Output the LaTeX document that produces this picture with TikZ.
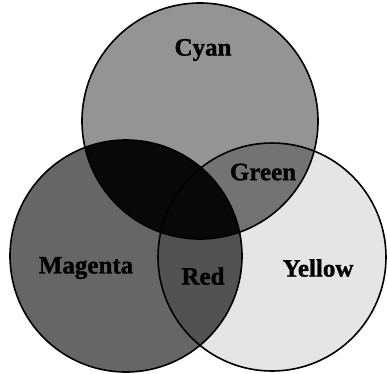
\documentclass[tikz,border=0pt]{standalone}
\usepackage{fontspec}
\setmainfont{Liberation Serif}[BoldFeatures={FakeBold=1.2}]
\begin{document}
\begin{tikzpicture}[x=1pt,y=-1pt,
  lbl/.style={font=\bfseries\fontsize{25}{27}\selectfont, text=black, inner sep=0pt},
  ring/.style={draw=black, line width=1.6pt}]
\useasboundingbox (0,0) rectangle (387,373);
\fill[white] (0,0) rectangle (387,373);
\def\cyanpath{(200,121) circle (118)}
\def\magpath{(126,256) circle (116)}
\def\yelpath{(272,257) circle (114)}
% base fills
\fill[black!60] \magpath;
\fill[black!10] \yelpath;
\fill[black!42] \cyanpath;
% Green: cyan & yellow
\begin{scope}\clip \cyanpath; \fill[black!55] \yelpath; \end{scope}
% Red: magenta & yellow
\begin{scope}\clip \magpath; \fill[black!68] \yelpath; \end{scope}
% cyan & magenta: black
\begin{scope}\clip \cyanpath; \fill[black!97] \magpath; \end{scope}
% outlines
\draw[ring] \magpath;
\draw[ring] \yelpath;
\draw[ring] \cyanpath;
% labels
\node[lbl] (cyan) at (203,50) {Cyan};
\node[lbl] (green) at (263,172) {Green};
\node[lbl] (magenta) at (86,268) {Magenta};
\node[lbl] (red) at (203,276) {Red};
\node[lbl] (yellow) at (318,268) {Yellow};
\end{tikzpicture}
\end{document}
